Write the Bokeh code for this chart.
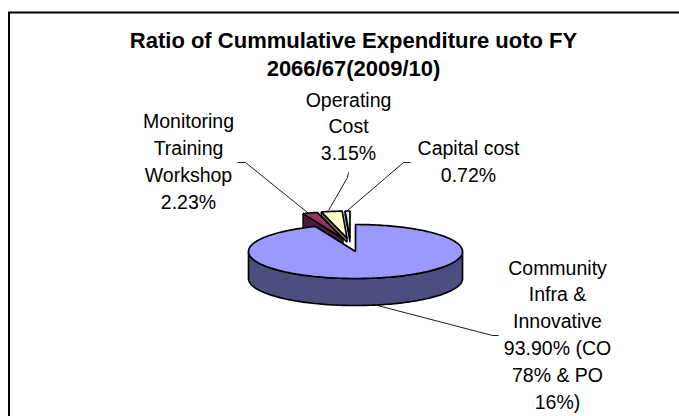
import numpy as np
from bokeh.plotting import figure
from bokeh.models import Range1d
from bokeh.core.properties import value
from bokeh.embed import file_html
from bokeh.resources import INLINE

# chart content
title_lines = ["Ratio of Cummulative Expenditure uoto FY", "2066/67(2009/10)"]
categories = ["Community Infra & Innovative", "Monitoring Training Workshop", "Operating Cost", "Capital cost"]
shares = [93.90, 2.23, 3.15, 0.72]
label_lines = [
    ["Community", "Infra &", "Innovative", "93.90% (CO", "78% & PO", "16%)"],
    ["Monitoring", "Training", "Workshop", "2.23%"],
    ["Operating", "Cost", "3.15%"],
    ["Capital cost", "0.72%"],
]
top_colors = ["#9999FF", "#993366", "#FFFFCC", "#CCFFFF"]
side_colors = ["#4D4D80", "#4D1933", "#808066", "#668080"]

W, H = 679, 416
p = figure(width=W, height=H, x_range=Range1d(0, W), y_range=Range1d(H, 0),
           output_backend="svg", toolbar_location=None, min_border=0,
           outline_line_color=None, background_fill_color="white")
p.xaxis.visible = False
p.yaxis.visible = False
p.xgrid.visible = False
p.ygrid.visible = False

# chart-area frame (open at right and bottom, clipped by the picture)
p.line([8.5, 8.5], [12, 420], line_color="black", line_width=2)
p.line([7.5, 680], [12, 12], line_color="black", line_width=2)

cx, cy, rx, ry, depth = 355.0, 251.0, 107.0, 27.0, 27.0
explode_x = [0.0, 0.226, 0.226, 0.226]
explode_y = [0.0, 0.5, 0.5, 0.5]
group_shift = [0.0, -5.0, -5.0, -5.0]
cut_wall = [0.0, 1.0, 0.15, 0.15]

angles = np.cumsum([0.0] + shares) / 100 * 2 * np.pi   # clockwise from 12 o'clock

def ell(a, ox, oy):
    return ox + rx * np.sin(a), oy - ry * np.cos(a)

def draw_slice(i):
    a0, a1 = angles[i], angles[i + 1]
    mid = (a0 + a1) / 2
    ox = cx + explode_x[i] * rx * np.sin(mid) + group_shift[i]
    oy = cy - explode_y[i] * ry * np.cos(mid)
    t = np.linspace(a0, a1, 240)
    xs, ys = ell(t, ox, oy)
    front = (np.cos(t) < 0)
    if front.any():
        fx, fy = xs[front], ys[front]
        p.patch(np.r_[fx, fx[::-1]], np.r_[fy, fy[::-1] + depth], fill_color=side_colors[i],
                line_color="black", line_width=1.7)
    if i > 0:
        d = depth * cut_wall[i]
        p.patch([xs[0], ox, ox, xs[0]], [ys[0], oy, oy + d, ys[0] + d],
                fill_color=side_colors[i], line_color="black", line_width=1.4)
    p.patch(np.r_[ox, xs], np.r_[oy, ys], fill_color=top_colors[i], line_color="black", line_width=1.7)

for i in [1, 2, 3, 0]:
    draw_slice(i)

leaders_x = [[377, 492, 498], [307, 245, 237], [328, 347, 348], [347, 403, 410]]
leaders_y = [[305, 335, 335], [212, 162, 162], [210, 177, 172], [210, 162, 162]]
for lx, ly in zip(leaders_x, leaders_y):
    p.line(lx, ly, line_color="black", line_width=0.9)

font = value("Liberation Sans")
title_y = [40, 68]
for y, line in zip(title_y, title_lines):
    p.text([353], [y], text=[line], text_font=font, text_font_size="22px",
           text_font_style="bold", text_align="center", text_baseline="middle", text_color="black")

centers = [(557, 267, 26.8), (188, 120, 27), (348, 99, 26.5), (468, 147, 27)]
for lines, (x, y0, dy) in zip(label_lines, centers):
    for k, line in enumerate(lines):
        p.text([x], [y0 + dy * k], text=[line], text_font=font, text_font_size="19.5px",
               text_align="center", text_baseline="middle", text_color="black")

open("out.html", "w").write(file_html(p, INLINE))
